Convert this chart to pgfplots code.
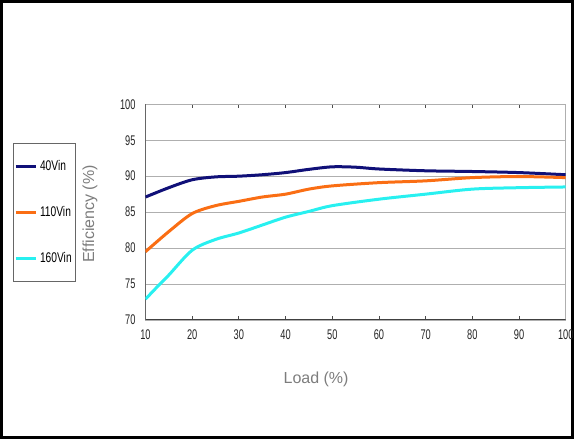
\documentclass[border=0pt]{standalone}
\usepackage{pgfplots}
\pgfplotsset{compat=1.18}
\usepackage{fontspec}
\setmainfont{Liberation Sans}
\newfontfamily\narrowfont[FakeStretch=0.66]{Liberation Sans}
\newfontfamily\legfont[FakeStretch=0.73]{Liberation Sans}
\definecolor{navyline}{RGB}{16,16,120}
\definecolor{orangeline}{RGB}{250,110,20}
\definecolor{cyanline}{RGB}{40,240,240}
\definecolor{labelgray}{RGB}{125,125,125}
\definecolor{gridgray}{RGB}{175,175,175}
\begin{document}
\begin{tikzpicture}
\useasboundingbox (0,0) rectangle (430.5pt,329.25pt);
\draw[line width=2pt] (1pt,1pt) rectangle (429.5pt,328.25pt);
\begin{axis}[
  at={(109.1pt,89.25pt)}, anchor=south west, scale only axis,
  width=315.2pt, height=161.8pt,
  xmin=10, xmax=100, ymin=70, ymax=100,
  xtick={10,20,...,100}, ytick={70,75,...,100},
  ymajorgrids, grid style={gridgray, line width=0.6pt},
  axis line style={gridgray, line width=0.6pt},
  tick align=inside, major tick length=3pt,
  xtick style={black!70, line width=0.6pt},
  ytick style={draw=none},
  /pgf/number format/assume math mode=true,
  tick label style={font=\narrowfont\fontsize{10.5}{12}\selectfont, text=black!85},
  xticklabel style={yshift=-4pt},
  yticklabel style={xshift=-4pt},
  xlabel={Load (\%)}, ylabel={Efficiency (\%)},
  label style={font=\fontsize{12}{14}\selectfont, text=labelgray},
  xlabel style={at={(axis description cs:0.406,-0.274)}, anchor=center},
  ylabel style={at={(axis description cs:-0.132,0.491)}, anchor=center, rotate=0},
  legend style={at={(axis description cs:-0.316,0.819)}, anchor=north west,
    draw=black!60, line width=0.6pt, fill=white,
    font=\legfont\fontsize{10.5}{12}\selectfont,
    inner xsep=1pt, inner ysep=10.5pt, row sep=21.5pt,
    /tikz/every even column/.append style={column sep=0pt}},
  legend cell align=left,
  legend image code/.code={\draw[#1] (0pt,0pt) -- (15pt,0pt);},
  every axis plot/.append style={line width=2.25pt, smooth, tension=0.5},
]
\draw[black!75, line width=0.8pt] (rel axis cs:0,1) -- (rel axis cs:0,0) -- (rel axis cs:1,0);
\addplot[navyline] coordinates {(10,87.1)(15,88.4)(20,89.5)(25,89.9)(30,90.0)(35,90.2)(40,90.5)(45,90.95)(50,91.3)(55,91.25)(60,91.0)(70,90.75)(80,90.65)(90,90.5)(100,90.2)};
\addlegendentry{40Vin}
\addplot[orangeline] coordinates {(10,79.5)(15,82.3)(20,84.8)(25,85.9)(30,86.5)(35,87.1)(40,87.5)(45,88.2)(50,88.65)(60,89.1)(70,89.35)(80,89.8)(90,89.95)(100,89.8)};
\addlegendentry{110Vin}
\addplot[cyanline] coordinates {(10,72.9)(12.5,74.6)(15,76.25)(20,79.7)(25,81.2)(30,82.1)(35,83.2)(40,84.3)(45,85.1)(50,85.9)(60,86.8)(70,87.5)(80,88.2)(90,88.4)(100,88.5)};
\addlegendentry{160Vin}
\end{axis}
\end{tikzpicture}
\end{document}
